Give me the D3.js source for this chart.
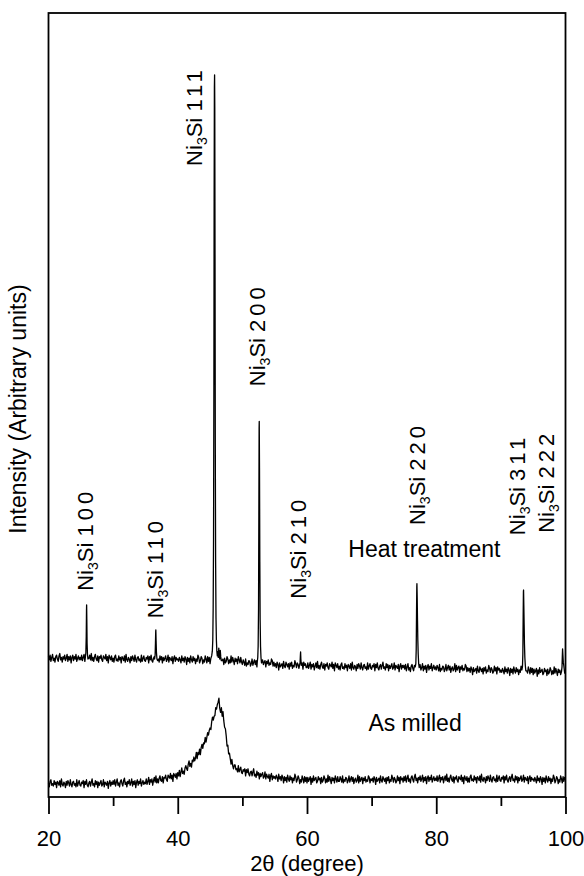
<!DOCTYPE html>
<html>
<head>
<meta charset="utf-8">
<script src="https://cdn.jsdelivr.net/npm/d3@7"></script>
<style>
  body { margin: 0; background: #fff; }
  svg text { font-family: "Liberation Sans", Arial, Helvetica, sans-serif; fill: #000; }
</style>
</head>
<body>
<svg id="chart" width="584" height="876"></svg>
<script>
// Step-scan settings shared by both diffractograms (2θ in degrees)
const scanStart = 20;
const scanStep = 0.125;

// Heat-treated sample: background counts at every scan step (offset upward for stacking)
const heatTreatedScan = [
  180,175,181,173,178,182,174,177,172,179,181,176,173,180,183,175,178,172,179,176,
  181,174,177,182,173,179,175,180,171,178,181,174,179,176,182,173,177,180,175,178,
  175,181,174,178,182,173,179,176,180,172,177,181,175,183,174,178,173,179,182,176,
  174,180,172,179,177,181,175,173,180,178,176,182,174,179,171,181,178,175,180,173,
  177,172,179,181,174,176,173,180,175,178,171,179,177,174,180,172,182,175,173,178,
  176,171,179,174,180,177,173,181,175,172,178,179,174,176,172,181,173,177,180,174,
  173,178,176,180,171,179,175,181,174,172,177,179,173,178,182,174,176,172,180,175,
  179,171,178,174,177,180,173,175,181,172,178,176,174,179,170,177,180,173,178,175,
  176,173,178,175,171,180,174,177,172,179,176,169,178,173,177,171,180,175,172,179,
  174,177,170,176,173,181,178,171,174,179,177,170,175,172,180,176,171,179,173,178,
  170,177,172,175,178,168,176,171,179,173,175,177,170,172,178,174,176,169,177,171,
  173,179,176,170,175,171,180,172,178,174,169,177,173,176,170,179,175,171,178,172,
  169,175,172,168,176,167,171,169,174,173,167,170,176,168,172,175,169,174,166,171,
  173,168,170,177,167,175,169,172,174,166,173,170,175,168,171,169,176,174,167,172,
  167,170,165,172,169,162,171,166,168,170,164,173,167,165,172,169,166,170,163,171,
  167,172,164,168,166,174,170,165,171,169,164,166,173,167,171,163,172,168,170,165,
  165,171,164,168,172,163,169,166,170,162,167,171,165,173,164,168,163,169,172,166,
  164,170,162,169,167,171,165,163,170,168,166,172,164,169,161,171,168,165,170,163,
  167,162,169,171,164,166,163,170,165,168,161,169,167,164,170,162,172,165,163,168,
  166,161,169,164,170,167,163,171,165,162,168,169,164,166,162,171,163,167,170,164,
  163,168,166,170,161,169,165,171,164,162,167,169,163,168,172,164,166,162,170,165,
  169,161,168,164,167,170,163,165,171,162,168,166,164,169,160,167,170,163,168,165,
  168,163,169,161,166,170,162,165,160,167,169,164,161,168,171,163,166,160,167,164,
  169,162,165,170,161,167,163,168,159,166,169,162,167,164,170,161,165,168,163,166,
  162,168,165,161,169,160,164,162,167,166,160,163,169,161,165,168,162,167,159,164,
  166,161,163,170,160,168,162,165,167,159,166,163,168,161,164,162,169,167,160,165,
  161,164,159,166,163,156,165,160,162,164,158,167,161,159,166,163,160,164,157,165,
  161,166,158,162,160,168,164,159,165,163,158,160,167,161,165,157,166,162,164,159,
  162,159,164,161,157,166,160,163,158,165,162,155,164,159,163,157,166,161,158,165,
  160,163,156,162,159,167,164,157,160,165,163,156,161,158,166,162,157,165,159,164,
  156,163,158,161,164,154,162,157,165,159,161,163,156,158,164,160,162,155,163,157,
  159,165,162,156,161,157,166,158,164,160,155,163,159,162,156,165,161,157,164,158,
  159
];

// Heat-treated sample: finely sampled points across the Bragg reflections [2θ, counts]
const heatTreatedPeaks = [
  [25.7,178],[25.78,184],[25.84,205],[25.88,238],[25.9,245],[25.93,226],[25.97,196],[26.03,182],[26.1,176],
  [36.42,176],[36.5,181],[36.55,196],[36.59,211],[36.61,213],[36.65,199],[36.7,185],[36.78,176],
  [45.25,180],[45.35,186],[45.42,200],[45.48,240],[45.54,330],[45.59,520],[45.63,760],[45.67,905],
  [45.7,921],[45.73,880],[45.77,680],[45.81,450],[45.86,300],[45.92,228],[45.98,200],[46.05,186],
  [46.12,180],[46.2,185],[46.27,178],[46.35,190],[46.42,181],[46.5,176],[46.58,187],[46.65,179],[46.74,174],
  [52.3,172],[52.38,178],[52.44,192],[52.5,240],[52.55,360],[52.59,470],[52.61,479],[52.65,420],
  [52.7,300],[52.75,225],[52.81,192],[52.88,178],[52.96,171],
  [58.85,168],[58.93,172],[58.98,181],[59.01,185],[59.05,176],[59.12,168],
  [76.75,166],[76.84,170],[76.9,188],[76.95,235],[76.99,268],[77.01,272],[77.05,255],[77.1,225],
  [77.15,200],[77.21,182],[77.28,170],[77.36,165],
  [93.25,162],[93.34,166],[93.4,182],[93.45,230],[93.49,262],[93.51,264],[93.55,245],[93.6,220],
  [93.65,195],[93.71,178],[93.78,168],[93.86,161],
  [99.38,160],[99.46,166],[99.51,180],[99.55,189],[99.6,181],[99.66,172],[99.73,168]
];

// As-milled powder: counts at every scan step (broad hump of the milled Ni-Si powder)
const asMilledScan = [
  18,13,20,22,15,17,14,21,16,19,12,20,18,15,21,13,23,16,14,19,
  17,12,20,15,21,18,14,22,16,13,19,20,15,17,13,22,14,18,21,15,
  14,19,17,21,12,20,16,22,15,13,18,20,14,19,23,15,17,13,21,16,
  20,12,19,15,18,21,14,16,22,13,19,17,15,20,11,18,21,14,19,16,
  21,16,22,14,19,23,15,18,13,20,22,17,14,21,24,16,19,13,20,17,
  22,15,18,23,14,20,16,21,12,19,22,15,20,17,23,14,18,21,16,19,
  17,23,16,20,25,16,22,19,23,15,21,25,19,27,18,23,18,24,27,21,
  20,26,18,25,24,28,22,20,28,26,24,30,23,28,20,30,28,25,30,23,
  31,27,34,26,32,37,30,33,29,37,40,36,34,42,46,39,43,38,47,45,
  51,46,50,57,49,57,54,61,54,63,67,62,69,68,76,70,76,82,79,85,
  88,86,96,102,98,103,104,114,112,118,121,126,113,108,114,103,109,97,89,87,
  78,65,66,55,56,49,42,48,40,36,41,41,35,36,32,40,32,35,38,31,
  30,35,33,36,27,35,31,36,29,27,32,33,27,32,36,27,29,25,33,28,
  31,23,30,26,29,31,24,26,32,23,29,26,24,29,20,27,30,22,27,24,
  26,23,28,25,20,29,23,26,21,28,25,18,26,21,25,19,28,23,20,27,
  22,25,18,24,21,29,26,19,22,27,24,17,22,19,27,23,18,26,20,25,
  18,25,20,23,26,16,24,19,27,21,23,25,18,20,26,22,24,17,25,19,
  21,27,24,18,23,19,28,20,26,22,17,25,21,24,18,27,23,19,26,20,
  20,26,23,19,27,18,22,20,25,24,18,21,27,19,23,26,20,25,17,22,
  24,19,21,28,18,26,20,23,25,17,24,21,26,19,22,20,27,25,18,23,
  21,24,19,26,23,16,25,20,22,24,18,27,21,19,26,23,20,24,17,25,
  21,26,18,22,20,28,24,19,25,23,18,20,27,21,25,17,26,22,24,19,
  26,21,27,19,24,28,20,23,18,25,27,22,19,26,29,21,24,18,25,22,
  27,20,23,28,19,25,21,26,17,24,27,20,25,22,28,19,23,26,21,24,
  21,27,20,24,28,19,25,22,26,18,23,27,21,29,20,24,19,25,28,22,
  20,26,18,25,23,27,21,19,26,24,22,28,20,25,17,27,24,21,26,19,
  24,19,26,28,21,23,20,27,22,25,18,26,24,21,27,19,29,22,20,25,
  23,18,26,21,27,24,20,28,22,19,25,26,21,23,19,28,20,24,27,21,
  20,25,23,27,18,26,22,28,21,19,24,26,20,25,29,21,23,19,27,22,
  26,18,25,21,24,27,20,22,28,19,25,23,21,26,17,24,27,20,25,22,
  23,20,25,22,18,27,21,24,19,26,23,16,25,20,24,18,27,22,19,26,
  21,24,17,23,20,28,25,18,21,26,24,17,22,19,27,23,18,26,20,25,
  22
];

// Indexed Ni3Si reflections
const reflectionHkl = ["100", "110", "111", "200", "210", "220", "311", "222"];
const reflectionAngle = [25.9, 36.6, 45.7, 52.6, 59.0, 77.0, 93.5, 99.55];

// x axis ticks
const xTickValues = [20, 30, 40, 50, 60, 70, 80, 90, 100];
const xTickLabels = ["20", "", "40", "", "60", "", "80", "", "100"];

// Trace captions
const traceCaptions = ["Heat treatment", "As milled"];

// ---------- layout ----------
const svg = d3.select("#chart");
const plot = { left: 48.5, right: 565.5, top: 13, bottom: 797 };

const x = d3.scaleLinear().domain([20, 100]).range([plot.left, plot.right]);
const y = d3.scaleLinear().domain([0, 1000]).range([plot.bottom, plot.top]);

// Label anchors in data space: [2θ at text centre, counts at text start]
const labelAnchor = [
  [25.75, 263], [36.45, 228], [42.63, 805], [52.36, 524],
  [58.7, 253], [77.1, 347], [92.55, 334], [97.1, 337]
];
const captionAnchor = [[66.4, 306], [69.5, 84]];

// ---------- traces ----------
const onGrid = values => values.map((v, i) => [scanStart + i * scanStep, v]);

// group the fine peak samples into reflections, then replace the coarse
// background samples lying under each reflection by the fine ones
const peakGroups = [];
heatTreatedPeaks.forEach(p => {
  const last = peakGroups[peakGroups.length - 1];
  if (last && p[0] - last[1] < 0.5) last[1] = p[0];
  else peakGroups.push([p[0], p[0]]);
});
const heatBackground = onGrid(heatTreatedScan)
  .filter(([a]) => !peakGroups.some(([lo, hi]) => a >= lo - 0.04 && a <= hi + 0.04));
const heatTrace = heatBackground.concat(heatTreatedPeaks).sort((a, b) => a[0] - b[0]);
const milledTrace = onGrid(asMilledScan);

const line = d3.line().x(d => x(d[0])).y(d => y(d[1]));

svg.append("g")
  .selectAll("path")
  .data([heatTrace, milledTrace])
  .join("path")
  .attr("d", line)
  .attr("fill", "none")
  .attr("stroke", "#000")
  .attr("stroke-width", 1.3)
  .attr("stroke-linejoin", "round");

// ---------- frame and x axis ----------
svg.append("rect")
  .attr("x", plot.left).attr("y", plot.top)
  .attr("width", plot.right - plot.left).attr("height", plot.bottom - plot.top)
  .attr("fill", "none").attr("stroke", "#000").attr("stroke-width", 1.8);

const xAxis = d3.axisBottom(x)
  .tickValues(xTickValues)
  .tickSize(0)
  .tickFormat("");
const axisG = svg.append("g")
  .attr("transform", `translate(0,${plot.bottom})`)
  .call(xAxis);
axisG.select(".domain").remove();
axisG.selectAll(".tick line")
  .attr("stroke", "#000")
  .attr("stroke-width", 1.8)
  .attr("y2", (d, i) => xTickLabels[i] ? 17 : 9);
axisG.selectAll(".tick text")
  .text((d, i) => xTickLabels[i])
  .attr("y", 49)
  .attr("dy", 0)
  .attr("font-size", 22)
  .attr("fill", "#000");

svg.append("text")
  .attr("x", (plot.left + plot.right) / 2)
  .attr("y", 871)
  .attr("text-anchor", "middle")
  .attr("font-size", 22)
  .text("2θ (degree)");

svg.append("text")
  .attr("transform", `translate(26,${409}) rotate(-90)`)
  .attr("text-anchor", "middle")
  .attr("font-size", 23)
  .text("Intensity (Arbitrary units)");

// ---------- reflection labels ----------
const labels = svg.append("g")
  .selectAll("text")
  .data(reflectionHkl)
  .join("text")
  .attr("transform", (d, i) => `translate(${x(labelAnchor[i][0])},${y(labelAnchor[i][1])}) rotate(-90)`)
  .attr("dy", "0.35em")
  .attr("font-size", 22);
labels.append("tspan").text("Ni");
labels.append("tspan").attr("font-size", 14).attr("dy", 5).text("3");
labels.append("tspan").attr("dy", -5).text("Si ");
labels.append("tspan").attr("letter-spacing", 4).text(d => d);

// ---------- trace captions ----------
svg.append("g")
  .selectAll("text")
  .data(traceCaptions)
  .join("text")
  .attr("x", (d, i) => x(captionAnchor[i][0]))
  .attr("y", (d, i) => y(captionAnchor[i][1]))
  .attr("font-size", 23)
  .text(d => d);
</script>
</body>
</html>
